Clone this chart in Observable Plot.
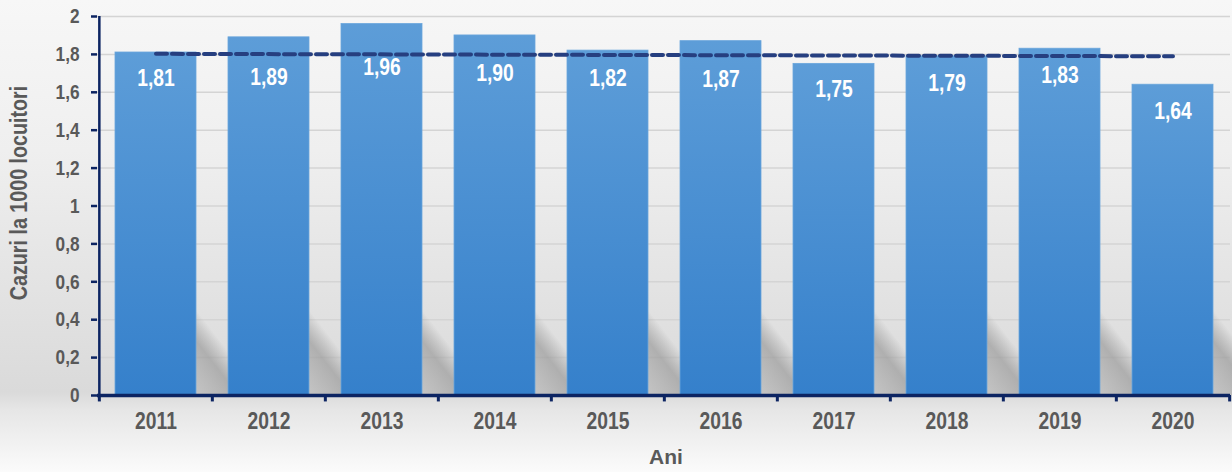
<!DOCTYPE html>
<html>
<head>
<meta charset="utf-8">
<script src="https://cdn.jsdelivr.net/npm/d3@7"></script>
<script src="https://cdn.jsdelivr.net/npm/@observablehq/plot@0.6"></script>
<style>
  html, body { margin: 0; padding: 0; }
  body {
    width: 1232px; height: 472px; overflow: hidden;
    background: linear-gradient(to bottom, #f7f7f7 0px, #efefef 150px, #e2e2e2 300px, #dadada 392px, #e6e6e6 410px, #fbfbfb 472px);
  }
  #chart svg { display: block; }
</style>
</head>
<body>
<div id="chart"></div>
<script>
const years = ["2011","2012","2013","2014","2015","2016","2017","2018","2019","2020"];
const values = [1.81, 1.89, 1.96, 1.90, 1.82, 1.87, 1.75, 1.79, 1.83, 1.64];
const valueLabels = ["1,81","1,89","1,96","1,90","1,82","1,87","1,75","1,79","1,83","1,64"];
const yTicks = [0, 0.2, 0.4, 0.6, 0.8, 1, 1.2, 1.4, 1.6, 1.8, 2];
const yTickLabels = ["0","0,2","0,4","0,6","0,8","1","1,2","1,4","1,6","1,8","2"];
const trendYears = ["2011", "2020"];
const trendValues = [1.803, 1.790];
const yTitle = "Cazuri la 1000 locuitori";
const xTitle = "Ani";

// layout: pixel offsets of each value label below its bar top (as placed in the reference)
const labelDy = [26, 40, 43, 38, 28, 38, 26, 27, 27, 27];

const data = years.map((y, i) => ({year: y, value: values[i], label: valueLabels[i], dy: labelDy[i]}));
const trend = trendYears.map((y, i) => ({year: y, value: trendValues[i]}));

const FONT = "'Liberation Sans Narrow', 'Arial Narrow', 'Liberation Sans', Arial, sans-serif";
const NAVY = "#0c2462";
const GREY = "#595959";
const W = 1232, H = 472, ML = 97, MR = 2, MT = 16, MB = 77;
const step = (W - ML - MR) / years.length;

function defs() {
  const ns = "http://www.w3.org/2000/svg";
  const d = document.createElementNS(ns, "defs");
  d.innerHTML = `
    <linearGradient id="barGrad" x1="0" y1="0" x2="0" y2="1">
      <stop offset="0" stop-color="#5d9dd8"/>
      <stop offset="1" stop-color="#3580cb"/>
    </linearGradient>
    <linearGradient id="shadowGrad" x1="1" y1="0" x2="0" y2="1">
      <stop offset="0" stop-color="#808080" stop-opacity="0"/>
      <stop offset="0.35" stop-color="#808080" stop-opacity="0"/>
      <stop offset="0.5" stop-color="#8a8a8a" stop-opacity="0.55"/>
      <stop offset="0.75" stop-color="#9a9a9a" stop-opacity="0.35"/>
      <stop offset="1" stop-color="#b0b0b0" stop-opacity="0"/>
    </linearGradient>`;
  return d;
}

const labelMarks = data.map((d) =>
  Plot.text([d], {x: "year", y: "value", text: "label", dy: d.dy, fill: "white", fontSize: 23.5, fontWeight: "bold"})
);

const chart = Plot.plot({
  width: W, height: H,
  marginLeft: ML, marginRight: MR, marginTop: MT, marginBottom: MB,
  style: {background: "transparent", fontFamily: FONT, overflow: "visible"},
  x: {type: "band", domain: years, paddingInner: 0.285, paddingOuter: 0.1425, label: null},
  y: {domain: [0, 2], label: null},
  marks: [
    defs,
    Plot.gridY(yTicks, {stroke: "#d4d4d4", strokeOpacity: 1, strokeWidth: 1.5}),
    Plot.barY(data, {x: "year", y1: 0, y2: 0.55, dx: 42, fill: "url(#shadowGrad)"}),
    Plot.barY(data, {x: "year", y: "value", fill: "url(#barGrad)", stroke: "#6aa6dc", strokeWidth: 0.8}),
    Plot.line(trend, {x: "year", y: "value", stroke: "#263f80", strokeWidth: 4, strokeDasharray: "11,5"}),
    ...labelMarks,
    Plot.axisY(yTicks, {
      tickFormat: (d) => yTickLabels[yTicks.indexOf(d)],
      tickSize: 6, tickPadding: 12, stroke: NAVY, strokeWidth: 2.5,
      fill: GREY, fontSize: 21, fontWeight: "bold", label: null
    }),
    Plot.axisX({tickSize: 0, tickPadding: 17, fill: GREY, fontSize: 23.5, fontWeight: "bold", label: null}),
    Plot.ruleX(years, {x: (d) => d, y1: 0, y2: -0.034, dx: -step / 2, stroke: NAVY, strokeWidth: 3}),
    Plot.ruleX([years[years.length - 1]], {x: (d) => d, y1: 0, y2: -0.034, dx: step / 2, stroke: NAVY, strokeWidth: 3}),
    Plot.ruleX([0], {x: () => years[0], y1: 0, y2: 2, dx: -step / 2, stroke: NAVY, strokeWidth: 2.5}),
    Plot.ruleY([0], {stroke: NAVY, strokeWidth: 3.5}),
    Plot.text([yTitle], {frameAnchor: "left", textAnchor: "middle", dx: -78, dy: -13, rotate: -90, fill: GREY, fontSize: 24, fontWeight: "bold"}),
    Plot.text([xTitle], {frameAnchor: "bottom", textAnchor: "middle", dy: 68, dx: 2, fill: GREY, fontSize: 21, fontWeight: "bold"})
  ]
});
document.getElementById("chart").appendChild(chart);

// emulate a narrow (condensed) bold face: squeeze glyphs horizontally
chart.querySelectorAll("text").forEach((t) => {
  if (t.textContent === xTitle) return;
  const L = t.getComputedTextLength();
  if (L > 0) {
    t.setAttribute("textLength", (L * 0.82).toFixed(2));
    t.setAttribute("lengthAdjust", "spacingAndGlyphs");
  }
});
</script>
</body>
</html>
